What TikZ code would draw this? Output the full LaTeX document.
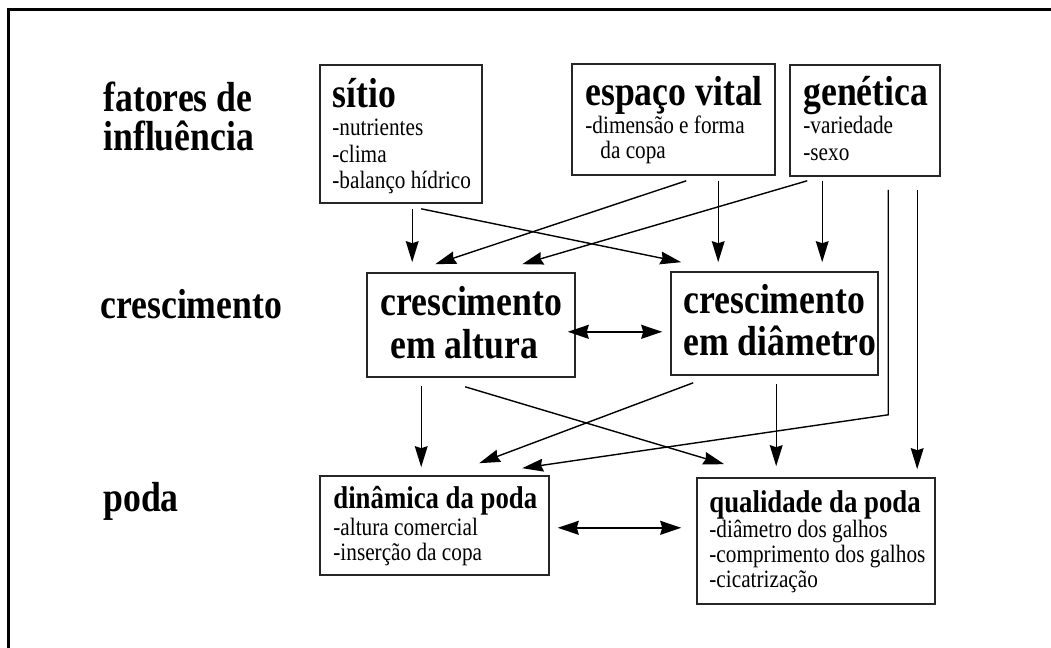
\documentclass[tikz,border=0pt]{standalone}
\usepackage{fontspec}
\usetikzlibrary{arrows.meta,calc,fit}
\newfontfamily\cf[FakeStretch=0.85]{Liberation Serif}
\newcommand{\bigf}{\cf\bfseries\fontsize{21pt}{21pt}\selectfont}
\newcommand{\midf}{\cf\bfseries\fontsize{15.75pt}{16pt}\selectfont}
\newcommand{\itf}{\cf\fontsize{12.5pt}{13pt}\selectfont}
\tikzset{
  box/.style={draw=black!85, line width=0.8pt, inner sep=0pt},
  lbl/.style={anchor=base west, inner sep=0pt, text=black},
  arr/.style={draw=black, line width=0.7pt, -{Stealth[length=10.5pt,width=6.4pt,inset=1pt]}},
  darr/.style={draw=black, line width=0.7pt, {Stealth[length=10.5pt,width=7pt,inset=1pt]}-{Stealth[length=10.5pt,width=7pt,inset=1pt]}},
  frame/.style={draw=black, line width=1.3pt}
}
\begin{document}
\begin{tikzpicture}[x=0.5pt,y=-0.5pt]
\useasboundingbox (0,0) rectangle (1051,648);
\draw[frame] (8.5,648) -- (8.5,9.5) -- (1051,9.5);

% row labels
\node[lbl] (l1) at (103,112) {\bigf fatores de};
\node[lbl] (l2) at (103,150) {\bigf influência};
\node[lbl] (l3) at (100,318) {\bigf crescimento};
\node[lbl] (l4) at (103,511) {\bigf poda};

% boxes
\node[box, fit={(320,65) (482,203)}] (sitio) {};
\node[box, fit={(572,64) (775,175)}] (espaco) {};
\node[box, fit={(790,65) (940,176)}] (genetica) {};
\node[box, fit={(367,273) (575,377)}] (altura) {};
\node[box, fit={(671,272) (878,375)}] (diametro) {};
\node[box, fit={(320,476) (549,575)}] (dinamica) {};
\node[box, fit={(697,478) (935,604)}] (qualidade) {};

% box texts
\node[lbl] (s0) at (332,107) {\bigf sítio};
\node[lbl] (s1) at (332,135) {\itf -nutrientes};
\node[lbl] (s2) at (332,162) {\itf -clima};
\node[lbl] (s3) at (332,188) {\itf -balanço hídrico};

\node[lbl] (e0) at (585,105) {\bigf espaço vital};
\node[lbl] (e1) at (585,133) {\itf -dimensão e forma};
\node[lbl] (e2) at (600,158) {\itf da copa};

\node[lbl] (g0) at (803,105) {\bigf genética};
\node[lbl] (g1) at (803,133) {\itf -variedade};
\node[lbl] (g2) at (803,160) {\itf -sexo};

\node[lbl] (a0) at (380,315) {\bigf crescimento};
\node[lbl] (a1) at (390,358) {\bigf em altura};

\node[lbl] (d0) at (683,313) {\bigf crescimento};
\node[lbl] (d1) at (683,355) {\bigf em diâmetro};

\node[lbl] (p0) at (333,508) {\midf dinâmica da poda};
\node[lbl] (p1) at (333,535) {\itf -altura comercial};
\node[lbl] (p2) at (333,560) {\itf -inserção da copa};

\node[lbl] (q0) at (709,512) {\midf qualidade da poda};
\node[lbl] (q1) at (709,537) {\itf -diâmetro dos galhos};
\node[lbl] (q2) at (709,562) {\itf -comprimento dos galhos};
\node[lbl] (q3) at (709,587) {\itf -cicatrização};

% connectors: first layer
\draw[arr] ($(sitio.south west)+(93,5)$) -- ($(altura.north west)+(46,-10)$);
\draw[arr] ($(sitio.south west)+(102,5)$) -- ($(diametro.north west)+(11,-9)$);
\draw[arr] ($(espaco.south west)+(115,5)$) -- ($(altura.north west)+(69,-8)$);
\draw[arr] ($(espaco.south west)+(147,5)$) -- ($(diametro.north west)+(48,-9)$);
\draw[arr] ($(genetica.south west)+(18,4)$) -- ($(altura.north west)+(156,-8)$);
\draw[arr] ($(genetica.south west)+(33,4)$) -- ($(diametro.north west)+(152,-9)$);
\draw[arr] ($(genetica.south west)+(99,13)$) -- ($(genetica.south west)+(99,238)$) -- ($(dinamica.north west)+(203,-7)$);
\draw[arr] ($(genetica.south west)+(128,13)$) -- ($(qualidade.north west)+(221,-8)$);

% middle double arrow
\draw[darr] ($(altura.south east)+(-8,-46)$) -- ($(diametro.south west)+(-8,-44)$);

% second layer
\draw[arr] ($(altura.south west)+(55,8)$) -- ($(dinamica.north west)+(102,-8)$);
\draw[arr] ($(altura.south west)+(99,9)$) -- ($(qualidade.north west)+(28,-13)$);
\draw[arr] ($(diametro.south west)+(23,7)$) -- ($(dinamica.north west)+(160,-12)$);
\draw[arr] ($(diametro.south west)+(106,8)$) -- ($(qualidade.north west)+(80,-11)$);

% bottom double arrow
\draw[darr] ($(dinamica.south east)+(8,-48)$) -- ($(qualidade.south west)+(-15,-77)$);
\end{tikzpicture}
\end{document}
